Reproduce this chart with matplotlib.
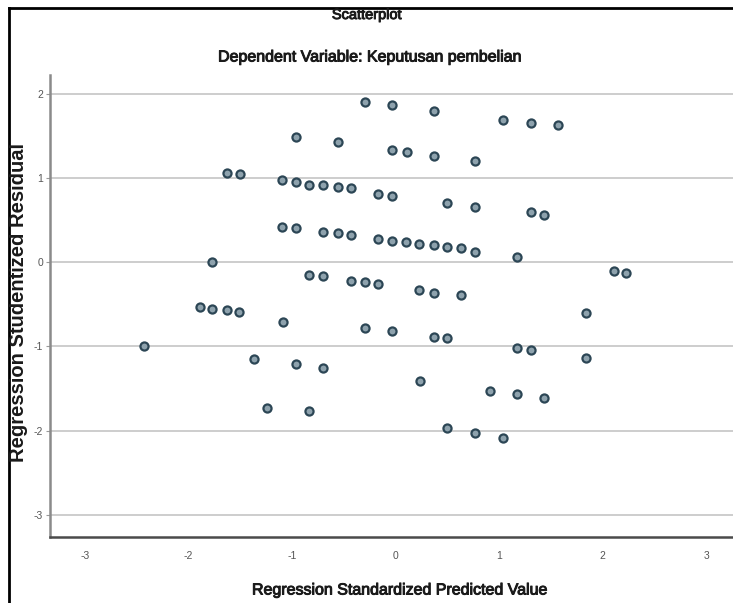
import matplotlib
matplotlib.use("Agg")
import matplotlib.pyplot as plt
from matplotlib.lines import Line2D
import matplotlib.patheffects as pe

title = "Scatterplot"
subtitle = "Dependent Variable: Keputusan pembelian"
x_label = "Regression Standardized Predicted Value"
y_label = "Regression Studentized Residual"
x_ticks = [-3, -2, -1, 0, 1, 2, 3]
y_ticks = [-3, -2, -1, 0, 1, 2]

pred = [-0.30, -0.04, 0.37, 1.04, 1.31, 1.57,
        -0.96, -0.56, -0.04, 0.11, 0.37, 0.77,
        -1.63, -1.50,
        -1.10, -0.96, -0.84, -0.70, -0.56, -0.43, -0.17, -0.04,
        0.50, 0.77, 1.31, 1.43,
        -1.10, -0.96, -0.70, -0.56, -0.43,
        -0.17, -0.04, 0.10, 0.23, 0.37, 0.50, 0.63, 0.77, 1.17,
        -1.77, 2.11, 2.23,
        -0.84, -0.70, -0.43, -0.30, -0.17,
        0.23, 0.37, 0.63, 1.84,
        -1.89, -1.77, -1.63, -1.51, -1.09,
        -0.30, -0.04, 0.37, 0.50,
        1.17, 1.31, 1.84, -2.43,
        -1.37, -0.96, -0.70,
        0.24, 0.91, 1.17, 1.43,
        -1.24, -0.84,
        0.50, 0.77, 1.04]
resid = [1.90, 1.86, 1.79, 1.69, 1.65, 1.63,
         1.48, 1.42, 1.33, 1.31, 1.26, 1.20,
         1.06, 1.04,
         0.97, 0.95, 0.92, 0.91, 0.89, 0.88, 0.81, 0.79,
         0.70, 0.66, 0.59, 0.56,
         0.42, 0.41, 0.36, 0.34, 0.32,
         0.27, 0.25, 0.24, 0.22, 0.20, 0.18, 0.17, 0.12, 0.06,
         0.00, -0.11, -0.13,
         -0.15, -0.17, -0.22, -0.24, -0.26,
         -0.33, -0.36, -0.39, -0.60,
         -0.53, -0.55, -0.57, -0.59, -0.71,
         -0.78, -0.82, -0.89, -0.90,
         -1.02, -1.04, -1.14, -0.99,
         -1.15, -1.21, -1.25,
         -1.41, -1.53, -1.56, -1.61,
         -1.73, -1.76,
         -1.97, -2.03, -2.09]

plt.rcParams['font.family'] = ['Liberation Sans', 'DejaVu Sans']

fig = plt.figure(figsize=(7.33, 6.03), dpi=100)
fig.patch.set_facecolor('white')
ax = fig.add_axes([50/733, (603-537)/603, (733-50)/733, (537-75)/603])

ax.set_xlim(-3.34, 3.26)
ax.set_ylim(-3.26, 2.22)

for yt in y_ticks:
    ax.axhline(yt, color='#c9c9c9', lw=1.3, zorder=1)

ax.scatter(pred, resid, s=34, facecolor='#8ea2ad', edgecolor='#2c4655',
           linewidths=1.6, zorder=3)

ax.set_xticks(x_ticks)
ax.set_yticks(y_ticks)
ax.set_xticklabels([str(v) for v in x_ticks])
ax.set_yticklabels([str(v) for v in y_ticks])
ax.tick_params(axis='both', labelsize=7.5, labelcolor='#555555', color='#999999')
ax.tick_params(axis='x', length=0, pad=10)
ax.tick_params(axis='y', length=3, pad=2)

for side in ['top', 'right']:
    ax.spines[side].set_visible(False)
ax.spines['left'].set_color('#8a8a8a')
ax.spines['left'].set_linewidth(1.8)
ax.spines['bottom'].set_color('#4a4a4a')
ax.spines['bottom'].set_linewidth(1.8)

heavy = [pe.withStroke(linewidth=0.7, foreground='#1a1a1a')]
fig.text(367/733, 1 - 15/603, title, ha='center', va='center',
         fontsize=10.5, color='#1a1a1a', path_effects=heavy)
fig.text(370/733, 1 - 57/603, subtitle, ha='center', va='center',
         fontsize=11.5, color='#1a1a1a', path_effects=heavy)
fig.text(400/733, 1 - 590/603, x_label, ha='center', va='center',
         fontsize=11.5, color='#1a1a1a', path_effects=heavy)
fig.text(19/733, 1 - 303/603, y_label, ha='center', va='center',
         rotation=90, fontsize=14.5, fontweight='bold', color='#1a1a1a')

# outer frame lines (left and top)
fig.add_artist(Line2D([9/733, 9/733], [0, 1 - 8/603], transform=fig.transFigure,
                      color='black', lw=2))
fig.add_artist(Line2D([9/733, 1], [1 - 8/603, 1 - 8/603], transform=fig.transFigure,
                      color='black', lw=2))

fig.savefig('out.png', dpi=100)
